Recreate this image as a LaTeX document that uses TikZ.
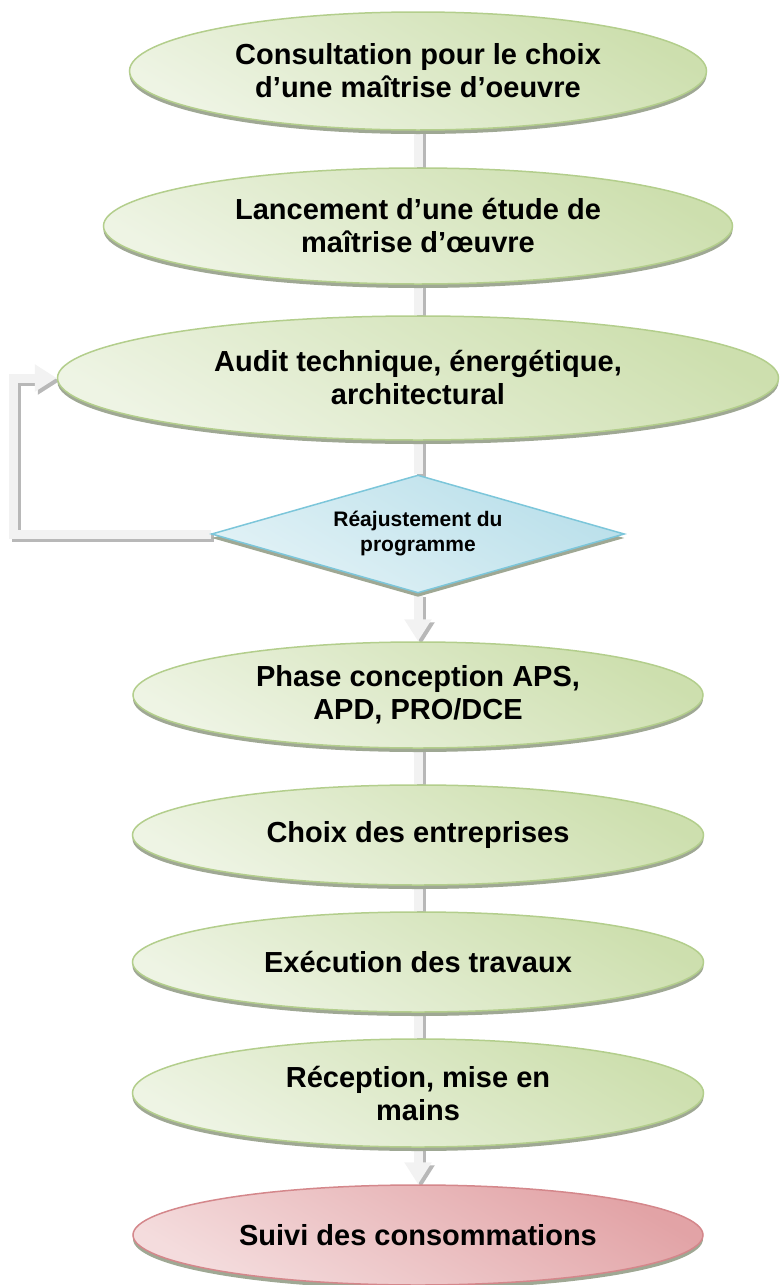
\documentclass[tikz,border=0pt]{standalone}
\usepackage{fontspec}
\setmainfont{Liberation Sans}
\usepackage{tikz}
\usetikzlibrary{shapes.geometric}
\usetikzlibrary{arrows.meta}
\usetikzlibrary{shadows}
\usetikzlibrary{backgrounds}
\usepackage{xcolor}
\definecolor{G0}{HTML}{CDDFAE}
\definecolor{G1}{HTML}{EEF4E4}
\definecolor{GB}{HTML}{B3CE8C}
\definecolor{R0}{HTML}{E2A3A6}
\definecolor{R1}{HTML}{F4DCDD}
\definecolor{RB}{HTML}{D4878B}
\definecolor{B0}{HTML}{B9DFEA}
\definecolor{B1}{HTML}{E2F2F6}
\definecolor{BB}{HTML}{7CC6DA}
\definecolor{S0}{HTML}{9FA894}
\definecolor{L0}{HTML}{F2F2F2}
\definecolor{L1}{HTML}{B8B8B8}

\begin{document}
\begin{tikzpicture}[x=1pt,y=-1pt]

\def\colx{418}
\tikzset{
rim/.style = {drop shadow={shadow xshift=0pt,shadow yshift=-4pt,fill=S0,opacity=1}},
stage/.style = {ellipse,draw=GB,line width=1.5pt,top color=G0,bottom color=G1,shading angle=-30,
	inner sep=0pt,align=center,font=\bfseries\fontsize{29}{33}\selectfont,rim},
last/.style = {stage,draw=RB,top color=R0,bottom color=R1,shading angle=-30},
decision/.style = {diamond,draw=BB,line width=1.5pt,top color=B0,bottom color=B1,shading angle=-30,
	inner sep=0pt,aspect=3.5,align=center,font=\bfseries\fontsize{21}{25}\selectfont,rim},
link/.style = {line width=9pt,draw=L0,line join=miter},
linkrim/.style = {link,draw=L1,transform canvas={xshift=3pt,yshift=-3pt}},
head/.style = {-{Triangle[width=26pt,length=22pt]}}
}

\useasboundingbox (0,0) rectangle (780,1285);

\node (cons) at (\colx,71) [stage,minimum width=577pt,minimum height=118pt] {Consultation pour le choix\\d’une maîtrise d’oeuvre};
\node (lanc) at (\colx,226) [stage,minimum width=629pt,minimum height=116pt] {Lancement d’une étude de\\maîtrise d’œuvre};
\node (audit) at (\colx,378) [stage,minimum width=721pt,minimum height=124pt] {Audit technique, énergétique,\\architectural};
\node (diam) at (\colx,534) [decision,minimum width=413pt,minimum height=118pt] {Réajustement du\\programme};
\node (phase) at (\colx,695) [stage,minimum width=570pt,minimum height=106pt] {Phase conception APS,\\APD, PRO/DCE};
\node (choix) at (\colx,835) [stage,minimum width=571pt,minimum height=100pt] {Choix des entreprises};
\node (exec) at (\colx,962) [stage,minimum width=571pt,minimum height=100pt] {Exécution des travaux};
\node (recep) at (\colx,1093) [stage,minimum width=571pt,minimum height=108pt] {Réception, mise en\\mains};
\node (suivi) at (\colx,1235) [last,minimum width=570pt,minimum height=100pt] {Suivi des consommations};

\coordinate (back) at (13,534);

\begin{scope}[on background layer]
\foreach \a/\b in {cons/lanc,lanc/audit,audit/diam,phase/choix,choix/exec,exec/recep}{
	\draw[linkrim] (\a.south) -- (\b.north);
	\draw[link] (\a.south) -- (\b.north);
}
\foreach \a/\b in {diam/phase,recep/suivi}{
	\draw[linkrim,head] (\a.south) -- (\b.north);
	\draw[link,head] (\a.south) -- (\b.north);
}
\draw[linkrim,head] (diam.west) -- (back) |- (audit.west);
\draw[link,head] (diam.west) -- (back) |- (audit.west);
\end{scope}

\end{tikzpicture}
\end{document}
